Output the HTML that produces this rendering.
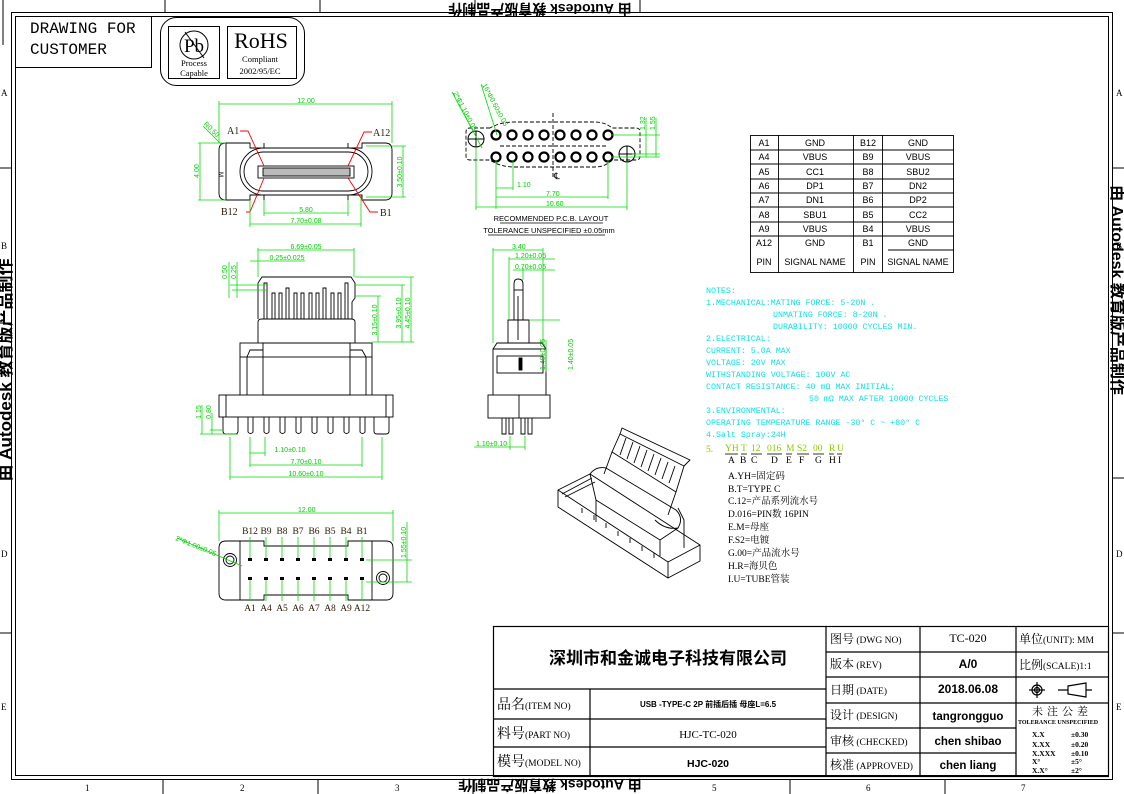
<!DOCTYPE html>
<html><head><meta charset="utf-8"><style>
html,body{margin:0;padding:0;background:#fff;width:1124px;height:794px;overflow:hidden}
svg{display:block}
.s{font-family:"Liberation Serif","Noto Serif CJK SC",serif}
.m{font-family:"Liberation Mono","Noto Sans CJK SC",monospace}
.a{font-family:"Liberation Sans","Noto Sans CJK SC",sans-serif}
</style></head><body>
<svg width="1124" height="794" viewBox="0 0 1124 794" xmlns="http://www.w3.org/2000/svg">
<g fill="none" stroke="#000" stroke-width="1">
<rect x="11.5" y="12.5" width="1101" height="767"/>
<rect x="15.5" y="16.5" width="1093" height="759"/>
<line x1="3" y1="0" x2="3" y2="45"/>
<line x1="165" y1="0" x2="165" y2="12"/><line x1="320" y1="0" x2="320" y2="12"/>
<line x1="475" y1="0" x2="475" y2="12"/><line x1="640" y1="0" x2="640" y2="12"/>
<line x1="0" y1="168" x2="11" y2="168"/><line x1="0" y1="323" x2="11" y2="323"/><line x1="0" y1="478" x2="11" y2="478"/><line x1="0" y1="633" x2="11" y2="633"/>
<line x1="1112" y1="168" x2="1124" y2="168"/><line x1="1112" y1="323" x2="1124" y2="323"/><line x1="1112" y1="478" x2="1124" y2="478"/><line x1="1112" y1="633" x2="1124" y2="633"/>
<line x1="163" y1="779" x2="163" y2="794"/><line x1="318" y1="779" x2="318" y2="794"/><line x1="473" y1="779" x2="473" y2="794"/><line x1="790" y1="779" x2="790" y2="794"/><line x1="945" y1="779" x2="945" y2="794"/>
<rect x="15.5" y="16.5" width="136" height="51"/>
<rect x="160.5" y="17.5" width="144" height="68" rx="16"/>
<rect x="168.5" y="26.5" width="51" height="52"/>
<rect x="227.5" y="26.5" width="69" height="52"/>
<circle cx="194" cy="45" r="14"/>
<line x1="185" y1="32" x2="204" y2="58"/>
</g>
<g class="m" fill="#000">
<text x="30" y="33" font-size="16">DRAWING FOR</text>
<text x="30" y="54" font-size="16">CUSTOMER</text>
</g>
<g class="s" fill="#000">
<text x="194" y="52" font-size="19" text-anchor="middle">Pb</text>
<text x="194" y="66" font-size="8.5" text-anchor="middle">Process</text>
<text x="194" y="76" font-size="8.5" text-anchor="middle">Capable</text>
<text x="261" y="48" font-size="22" text-anchor="middle">RoHS</text>
<text x="260" y="62" font-size="8.5" text-anchor="middle">Compliant</text>
<text x="260" y="74" font-size="8.5" text-anchor="middle">2002/95/EC</text>
<text x="1" y="96" font-size="9">A</text><text x="1" y="249" font-size="9">B</text><text x="1" y="557" font-size="9">D</text><text x="1" y="710" font-size="9">E</text>
<text x="1116" y="96" font-size="9">A</text><text x="1116" y="249" font-size="9">B</text><text x="1116" y="557" font-size="9">D</text><text x="1116" y="710" font-size="9">E</text>
<text x="85" y="791" font-size="9">1</text><text x="240" y="791" font-size="9">2</text><text x="395" y="791" font-size="9">3</text><text x="712" y="791" font-size="9">5</text><text x="866" y="791" font-size="9">6</text><text x="1021" y="791" font-size="9">7</text>
</g>
<g class="a" font-weight="bold" fill="#000">
<text transform="translate(550,780) rotate(180)" font-size="14" text-anchor="middle">由 Autodesk 教育版产品制作</text>
<text transform="translate(540,4) rotate(180)" font-size="14" text-anchor="middle">由 Autodesk 教育版产品制作</text>
<text transform="translate(11,370) rotate(-90)" font-size="17" text-anchor="middle">由 Autodesk 教育版产品制作</text>
<text transform="translate(1112,290) rotate(90)" font-size="16" text-anchor="middle">由 Autodesk 教育版产品制作</text>
</g>

<!-- TOP VIEW -->
<g fill="none" stroke="#000" stroke-width="0.9">
<path d="M226,143 L250,143 L250,148 L264,148 L264,143 M348,143 L348,148 L362,148 L362,143 L385,143 Q392,143 392,150 L392,193 Q392,200 385,200 L362,200 L362,195 L348,195 L348,200 M264,200 L264,195 L250,195 L250,200 L226,200 Q219,200 219,193 L219,150 Q219,143 226,143"/>
<rect x="240" y="148" width="132" height="47" rx="23.5"/>
<rect x="244" y="152" width="124" height="39" rx="19.5"/>
<rect x="258" y="166" width="96" height="12"/>
<rect x="263" y="168" width="87" height="8" fill="#bbb"/>
<line x1="226" y1="143" x2="226" y2="200"/>
</g>
<text x="222" y="175" font-size="6" class="a" transform="rotate(90 222 172)">M</text>
<g stroke="#f00" stroke-width="0.9" fill="none">
<path d="M240,131 L248,131 L264,166"/><path d="M372,132 L364,132 L348,166"/>
<path d="M246,212 L250,212 L264,178"/><path d="M378,212 L370,212 L348,178"/>
</g>
<g class="s" font-size="10" fill="#2a1a00">
<text x="227" y="134">A1</text><text x="373" y="136">A12</text>
<text x="221" y="215">B12</text><text x="380" y="216">B1</text>
</g>
<g stroke="#00dd00" stroke-width="0.8" fill="none">
<line x1="219" y1="104" x2="392" y2="104"/><line x1="219" y1="101" x2="219" y2="143"/><line x1="392" y1="101" x2="392" y2="143"/>
<line x1="200" y1="143" x2="200" y2="200"/><line x1="198" y1="143" x2="226" y2="143"/><line x1="198" y1="200" x2="226" y2="200"/>
<line x1="403" y1="146" x2="403" y2="197"/><line x1="366" y1="146" x2="406" y2="146"/><line x1="366" y1="197" x2="406" y2="197"/>
<line x1="264" y1="213" x2="348" y2="213"/><line x1="264" y1="200" x2="264" y2="216"/><line x1="348" y1="200" x2="348" y2="216"/>
<line x1="250" y1="224" x2="361" y2="224"/><line x1="250" y1="200" x2="250" y2="227"/><line x1="361" y1="195" x2="361" y2="227"/>
<line x1="203" y1="126" x2="222" y2="145"/>
</g>
<g class="a" font-size="7" fill="#00cc00" text-anchor="middle">
<text x="306" y="103">12.00</text>
<text x="306" y="212">5.80</text>
<text x="306" y="223">7.70±0.08</text>
<text transform="translate(199,171) rotate(-90)">4.00</text>
<text transform="translate(402,172) rotate(-90)">3.50±0.10</text>
<text transform="translate(210,131) rotate(45)">R0.50</text>
</g>

<!-- PCB LAYOUT -->
<g fill="none" stroke="#000" stroke-width="0.9" stroke-dasharray="4,2">
<path d="M490,128 L470,128 Q466,128 466,132 L466,156 Q466,160 470,160 L490,160 Q500,167 515,167 L595,167 Q605,167 612,160 L636,160 Q640,160 640,156 L640,132 Q640,128 636,128 L612,128 Q605,122 595,122 L515,122 Q500,122 490,128"/>
<line x1="553" y1="113" x2="553" y2="178"/>
<line x1="500" y1="146" x2="606" y2="146"/>
</g>
<g stroke="#000" fill="none">
<circle cx="476" cy="139" r="8"/><line x1="468" y1="139" x2="484" y2="139"/><line x1="476" y1="131" x2="476" y2="147"/>
<circle cx="627" cy="154" r="8"/><line x1="619" y1="154" x2="635" y2="154"/><line x1="627" y1="146" x2="627" y2="162"/>
</g>
<g stroke="#000" stroke-width="2.2" fill="none">
<circle cx="496" cy="135" r="4.5"/><circle cx="512" cy="135" r="4.5"/><circle cx="528" cy="135" r="4.5"/><circle cx="544" cy="135" r="4.5"/><circle cx="560" cy="135" r="4.5"/><circle cx="576" cy="135" r="4.5"/><circle cx="592" cy="135" r="4.5"/><circle cx="608" cy="135" r="4.5"/>
<circle cx="496" cy="157" r="4.5"/><circle cx="512" cy="157" r="4.5"/><circle cx="528" cy="157" r="4.5"/><circle cx="544" cy="157" r="4.5"/><circle cx="560" cy="157" r="4.5"/><circle cx="576" cy="157" r="4.5"/><circle cx="592" cy="157" r="4.5"/><circle cx="608" cy="157" r="4.5"/>
</g>
<text x="554" y="179" font-size="9" class="s">℄</text>
<g stroke="#00dd00" stroke-width="0.8" fill="none">
<line x1="496" y1="188" x2="513" y2="188"/><line x1="496" y1="160" x2="496" y2="209"/><line x1="513" y1="160" x2="513" y2="190"/>
<line x1="496" y1="197" x2="608" y2="197"/><line x1="608" y1="160" x2="608" y2="199"/>
<line x1="476" y1="207" x2="627" y2="207"/><line x1="476" y1="147" x2="476" y2="210"/><line x1="627" y1="162" x2="627" y2="210"/>
<line x1="612" y1="135" x2="660" y2="135"/><line x1="612" y1="157" x2="660" y2="157"/><line x1="632" y1="154" x2="660" y2="154"/>
<line x1="646" y1="118" x2="646" y2="157"/><line x1="656" y1="118" x2="656" y2="157"/>
<line x1="452" y1="92" x2="482" y2="148"/><line x1="481" y1="84" x2="497" y2="135"/>
</g>
<g class="a" font-size="7" fill="#00cc00">
<text x="517" y="187">1.10</text><text x="546" y="196">7.70</text><text x="546" y="206">10.60</text>
<text transform="translate(645,130) rotate(-90)">1.32</text><text transform="translate(655,130) rotate(-90)">1.55</text>
<text transform="translate(453,93) rotate(62)">2*Φ1.10±0.05</text>
<text transform="translate(482,85) rotate(62)">16*Φ0.60±0.05</text>
</g>
<g class="a" font-size="7.5" fill="#000" text-anchor="middle">
<text x="551" y="221">RECOMMENDED   P.C.B.  LAYOUT</text>
<text x="549" y="233">TOLERANCE  UNSPECIFIED  ±0.05mm</text>
</g>
<line x1="500" y1="223" x2="603" y2="223" stroke="#000" stroke-width="0.8"/>
<line x1="488" y1="235" x2="605" y2="235" stroke="#000" stroke-width="0.8"/>

<!-- PIN TABLE -->
<g stroke="#000" stroke-width="0.9" fill="none">
<rect x="750.5" y="135.5" width="203" height="137"/>
<line x1="778.5" y1="135" x2="778.5" y2="273"/><line x1="853.5" y1="135" x2="853.5" y2="273"/><line x1="882.5" y1="135" x2="882.5" y2="273"/>
<line x1="750" y1="150" x2="954" y2="150"/><line x1="750" y1="164" x2="954" y2="164"/><line x1="750" y1="179" x2="954" y2="179"/><line x1="750" y1="193" x2="954" y2="193"/><line x1="750" y1="207" x2="954" y2="207"/><line x1="750" y1="222" x2="954" y2="222"/><line x1="750" y1="236" x2="954" y2="236"/>
<line x1="888" y1="250" x2="954" y2="250"/>
</g>
<g class="a" font-size="9" fill="#000" text-anchor="middle">
<text x="764" y="146">A1</text><text x="815" y="146">GND</text><text x="868" y="146">B12</text><text x="918" y="146">GND</text>
<text x="764" y="160">A4</text><text x="815" y="160">VBUS</text><text x="868" y="160">B9</text><text x="918" y="160">VBUS</text>
<text x="764" y="175">A5</text><text x="815" y="175">CC1</text><text x="868" y="175">B8</text><text x="918" y="175">SBU2</text>
<text x="764" y="189">A6</text><text x="815" y="189">DP1</text><text x="868" y="189">B7</text><text x="918" y="189">DN2</text>
<text x="764" y="203">A7</text><text x="815" y="203">DN1</text><text x="868" y="203">B6</text><text x="918" y="203">DP2</text>
<text x="764" y="218">A8</text><text x="815" y="218">SBU1</text><text x="868" y="218">B5</text><text x="918" y="218">CC2</text>
<text x="764" y="232">A9</text><text x="815" y="232">VBUS</text><text x="868" y="232">B4</text><text x="918" y="232">VBUS</text>
<text x="764" y="246">A12</text><text x="815" y="246">GND</text><text x="868" y="246">B1</text><text x="918" y="246">GND</text>
<text x="764" y="265">PIN</text><text x="815" y="265">SIGNAL NAME</text><text x="868" y="265">PIN</text><text x="918" y="265">SIGNAL NAME</text>
</g>

<!-- FRONT VIEW -->
<g fill="none" stroke="#000" stroke-width="0.9">
<path d="M258,319 L258,283 L262,277 L351,277 L355,283 L355,298 L352,302 L352,319"/>
<path d="M258,343 L258,322 Q258,319 262,319 L351,319 Q355,319 355,322 L355,343"/>
<rect x="240" y="343" width="132" height="14"/>
<path d="M247,357 L247,395 M366,357 L366,395 M240,357 L240,395 M372,357 L372,395"/>
<rect x="263" y="343" width="87" height="52"/>
<path d="M263,350 L250,350 L247,357 M350,350 L362,350 L366,357"/>
<rect x="219" y="395" width="174" height="22"/>
<line x1="226" y1="395" x2="226" y2="417"/><line x1="386" y1="395" x2="386" y2="417"/>
<path d="M223,417 L223,431 Q223,434 226,434 L235,434 Q238,434 238,431 L238,417"/>
<path d="M374,417 L374,431 Q374,434 377,434 L386,434 Q389,434 389,431 L389,417"/>
<path d="M248,417 v15 q2.5,3 5,0 v-15 M264,417 v15 q2.5,3 5,0 v-15 M280,417 v15 q2.5,3 5,0 v-15 M296,417 v15 q2.5,3 5,0 v-15 M312,417 v15 q2.5,3 5,0 v-15 M328,417 v15 q2.5,3 5,0 v-15 M344,417 v15 q2.5,3 5,0 v-15 M360,417 v15 q2.5,3 5,0 v-15"/>
<path d="M264,319 V283 h3 V319 M272,319 V293 h3 V319 M279,319 V293 h3 V319 M286,319 V288 h3 V319 M294,319 V293 h3 V319 M301,319 V293 h3 V319 M309,319 V293 h3 V319 M316,319 V293 h3 V319 M323,319 V288 h3 V319 M331,319 V293 h3 V319 M338,319 V293 h3 V319 M345,319 V283 h3 V319"/>
</g>
<g stroke="#00dd00" stroke-width="0.8" fill="none">
<line x1="258" y1="250" x2="354" y2="250"/><line x1="258" y1="248" x2="258" y2="277"/><line x1="354" y1="248" x2="354" y2="277"/>
<line x1="250" y1="261" x2="305" y2="261"/>
<line x1="229" y1="262" x2="229" y2="298"/><line x1="237" y1="262" x2="237" y2="298"/>
<line x1="230" y1="285" x2="268" y2="285"/><line x1="232" y1="290" x2="268" y2="290"/>
<line x1="378" y1="296" x2="378" y2="342"/><line x1="402" y1="285" x2="402" y2="342"/><line x1="411" y1="277" x2="411" y2="342"/>
<line x1="355" y1="277" x2="414" y2="277"/><line x1="355" y1="285" x2="405" y2="285"/><line x1="355" y1="296" x2="381" y2="296"/><line x1="372" y1="342" x2="414" y2="342"/>
<line x1="202" y1="405" x2="202" y2="434"/><line x1="212" y1="413" x2="212" y2="434"/><line x1="200" y1="434" x2="238" y2="434"/><line x1="210" y1="430" x2="223" y2="430"/>
<line x1="250" y1="453" x2="265" y2="453"/><line x1="250" y1="437" x2="250" y2="467"/><line x1="265" y1="437" x2="265" y2="456"/>
<line x1="250" y1="465" x2="362" y2="465"/><line x1="362" y1="437" x2="362" y2="467"/>
<line x1="230" y1="477" x2="382" y2="477"/><line x1="230" y1="437" x2="230" y2="480"/><line x1="382" y1="437" x2="382" y2="480"/>
</g>
<g class="a" font-size="7" fill="#00cc00" text-anchor="middle">
<text x="306" y="249">6.69±0.05</text><text x="287" y="260">0.25±0.025</text>
<text transform="translate(227,272) rotate(-90)">0.50</text><text transform="translate(236,272) rotate(-90)">0.25</text>
<text transform="translate(377,320) rotate(-90)">3.15±0.10</text><text transform="translate(401,313) rotate(-90)">3.95±0.10</text><text transform="translate(410,313) rotate(-90)">4.45±0.10</text>
<text transform="translate(201,412) rotate(-90)">1.15</text><text transform="translate(211,412) rotate(-90)">0.80</text>
<text x="290" y="452">1.10±0.10</text><text x="306" y="464">7.70±0.10</text><text x="306" y="476">10.60±0.10</text>
</g>

<!-- SIDE VIEW -->
<g fill="none" stroke="#000" stroke-width="0.9">
<path d="M514,320 V284 Q514,279 518,279 Q523,279 523,284 V320"/>
<line x1="514" y1="290" x2="523" y2="290"/><line x1="518" y1="296" x2="518" y2="340"/>
<path d="M508,343 V320 H529 V343"/>
<path d="M493,395 V349 L497,343 H542 L546,349 V395"/><line x1="493" y1="349" x2="546" y2="349"/>
<rect x="497" y="356" width="46" height="17"/>
<rect x="519" y="358" width="3" height="12" fill="#000"/>
<rect x="488" y="395" width="62" height="23"/><line x1="519" y1="395" x2="519" y2="418"/>
<path d="M502,418 v16 h4 v-16 M509,418 v16 h4 v-16 M521,418 v16 h4 v-16 M528,418 v16 h4 v-16"/>
</g>
<g stroke="#00dd00" stroke-width="0.8" fill="none">
<line x1="493" y1="250" x2="543" y2="250"/><line x1="493" y1="248" x2="493" y2="343"/><line x1="543" y1="248" x2="543" y2="343"/>
<line x1="509" y1="259" x2="555" y2="259"/><line x1="509" y1="257" x2="509" y2="320"/>
<line x1="513" y1="270" x2="555" y2="270"/><line x1="523" y1="268" x2="523" y2="280"/>
<line x1="546" y1="340" x2="546" y2="372"/><line x1="530" y1="320" x2="560" y2="320"/>
<line x1="474" y1="447" x2="525" y2="447"/><line x1="510" y1="436" x2="510" y2="450"/><line x1="525" y1="436" x2="525" y2="450"/>
</g>
<g class="a" font-size="7" fill="#00cc00">
<text x="512" y="249">3.40</text><text x="515" y="258">1.20±0.05</text><text x="515" y="269">0.70±0.05</text>
<text transform="translate(545,370) rotate(-90)">1.40±0.05</text><text transform="translate(573,370) rotate(-90)">1.40±0.05</text>
<text x="476" y="446">1.10±0.10</text>
</g>

<!-- BOTTOM VIEW -->
<g fill="none" stroke="#000" stroke-width="0.9">
<path d="M226,541 H264 V546 H348 V541 H386 Q393,541 393,548 V593 Q393,600 386,600 H348 V595 H264 V600 H226 Q219,600 219,593 V548 Q219,541 226,541"/>
<line x1="240" y1="541" x2="240" y2="600"/><line x1="372" y1="541" x2="372" y2="600"/>
<circle cx="230" cy="560" r="6.5"/><circle cx="230" cy="560" r="4"/>
<circle cx="383" cy="578" r="6.5"/><circle cx="383" cy="578" r="4"/>
</g>
<g stroke="#00dd00" stroke-width="0.8" fill="none">
<line x1="219" y1="513" x2="393" y2="513"/><line x1="219" y1="510" x2="219" y2="541"/><line x1="393" y1="510" x2="393" y2="541"/>
<path d="M250,537 V558 M266,537 V558 M282,537 V558 M298,537 V558 M314,537 V558 M330,537 V558 M346,537 V558 M362,537 V558"/>
<path d="M250,580 V601 M266,580 V601 M282,580 V601 M298,580 V601 M314,580 V601 M330,580 V601 M346,580 V601 M362,580 V601"/>
<line x1="407" y1="522" x2="407" y2="582"/><line x1="366" y1="560" x2="412" y2="560"/><line x1="366" y1="582" x2="412" y2="582"/>
<line x1="177" y1="538" x2="242" y2="566"/>
</g>
<g fill="#000">
<rect x="248" y="558" width="4" height="3"/><rect x="264" y="558" width="4" height="3"/><rect x="280" y="558" width="4" height="3"/><rect x="296" y="558" width="4" height="3"/><rect x="312" y="558" width="4" height="3"/><rect x="328" y="558" width="4" height="3"/><rect x="344" y="558" width="4" height="3"/><rect x="360" y="558" width="4" height="3"/>
<rect x="248" y="577" width="4" height="3"/><rect x="264" y="577" width="4" height="3"/><rect x="280" y="577" width="4" height="3"/><rect x="296" y="577" width="4" height="3"/><rect x="312" y="577" width="4" height="3"/><rect x="328" y="577" width="4" height="3"/><rect x="344" y="577" width="4" height="3"/><rect x="360" y="577" width="4" height="3"/>
</g>
<g class="s" font-size="9.5" fill="#2a1a00" text-anchor="middle">
<text x="250" y="534">B12</text><text x="266" y="534">B9</text><text x="282" y="534">B8</text><text x="298" y="534">B7</text><text x="314" y="534">B6</text><text x="330" y="534">B5</text><text x="346" y="534">B4</text><text x="362" y="534">B1</text>
<text x="250" y="611">A1</text><text x="266" y="611">A4</text><text x="282" y="611">A5</text><text x="298" y="611">A6</text><text x="314" y="611">A7</text><text x="330" y="611">A8</text><text x="346" y="611">A9</text><text x="362" y="611">A12</text>
</g>
<g class="a" font-size="7" fill="#00cc00">
<text x="298" y="512">12.00</text>
<text transform="translate(406,558) rotate(-90)">1.55±0.10</text>
<text transform="translate(175,540) rotate(22)">2*Φ1.00±0.05</text>
</g>

<!-- 3D VIEW -->
<g fill="none" stroke="#000" stroke-width="0.9" stroke-linejoin="round">
<path d="M558,490 L590,474 L700,545 L668,562 Z"/>
<path d="M558,490 L558,507 L668,578 L668,562"/>
<path d="M668,578 L700,561 L700,545"/>
<path d="M562,494 L592,478 M565,497 L595,482"/>
<path d="M590,474 Q596,466 606,468 L676,510 Q684,518 678,528 L660,540 L596,500 Z"/>
<path d="M596,500 L596,522 M660,540 L660,556"/>
<path d="M604,474 L612,452 L676,492 L668,515"/>
<path d="M612,452 L620,434 L684,466 L676,492"/>
<path d="M620,434 L622,428 L690,460 L684,466"/>
<path d="M620,455 L626,438 M627,459 L633,442 M634,463 L640,446 M641,467 L647,450 M648,471 L654,454 M655,475 L661,458 M662,479 L668,462 M669,483 L675,466"/>
<path d="M655,520 Q665,530 678,528 M678,508 L684,520 L684,548"/>
<path d="M582,508 v5 M594,515 v5 M606,523 v5 M618,531 v5 M630,538 v5 M642,546 v5 M654,553 v5"/>
</g>

<!-- NOTES -->
<g class="m" font-size="8.3" fill="#10e0e0">
<text x="706" y="293">NOTES:</text>
<text x="706" y="305">1.MECHANICAL:MATING FORCE: 5-20N .</text>
<text x="773" y="317">UNMATING FORCE: 8-20N .</text>
<text x="773" y="329">DURABILITY: 10000 CYCLES MIN.</text>
<text x="706" y="341">2.ELECTRICAL:</text>
<text x="706" y="353">CURRENT: 5.0A MAX</text>
<text x="706" y="365">VOLTAGE: 20V MAX</text>
<text x="706" y="377">WITHSTANDING VOLTAGE: 100V AC</text>
<text x="706" y="389">CONTACT RESISTANCE: 40 mΩ MAX INITIAL;</text>
<text x="809" y="401">50 mΩ MAX AFTER 10000 CYCLES</text>
<text x="706" y="413">3.ENVIRONMENTAL:</text>
<text x="706" y="425">OPERATING TEMPERATURE RANGE -30° C ~ +80° C</text>
<text x="706" y="437">4.Salt Spray:24H</text>
</g>
<g class="s" font-size="9.5" fill="#88cc00">
<text x="706" y="452">5.</text>
<text x="725" y="451">YH</text><text x="741" y="451">T</text><text x="751" y="451">12</text><text x="767" y="451">016</text><text x="786" y="451">M</text><text x="797" y="451">S2</text><text x="813" y="451">00</text><text x="829" y="451">R</text><text x="837" y="451">U</text>
</g>
<g stroke="#000" stroke-width="0.8">
<line x1="725" y1="454" x2="738" y2="454"/><line x1="741" y1="454" x2="747" y2="454"/><line x1="751" y1="454" x2="762" y2="454"/><line x1="767" y1="454" x2="782" y2="454"/><line x1="786" y1="454" x2="792" y2="454"/><line x1="797" y1="454" x2="809" y2="454"/><line x1="813" y1="454" x2="824" y2="454"/><line x1="829" y1="454" x2="834" y2="454"/><line x1="837" y1="454" x2="842" y2="454"/>
</g>
<g class="s" font-size="9.5" fill="#000">
<text x="728" y="463">A</text><text x="740" y="463">B</text><text x="751" y="463">C</text><text x="771" y="463">D</text><text x="786" y="463">E</text><text x="799" y="463">F</text><text x="815" y="463">G</text><text x="829" y="463">H</text><text x="838" y="463">I</text>
<text x="728" y="479">A.YH=固定码</text>
<text x="728" y="492">B.T=TYPE C</text>
<text x="728" y="504">C.12=产品系列流水号</text>
<text x="728" y="517">D.016=PIN数 16PIN</text>
<text x="728" y="530">E.M=母座</text>
<text x="728" y="543">F.S2=电镀</text>
<text x="728" y="556">G.00=产品流水号</text>
<text x="728" y="569">H.R=海贝色</text>
<text x="728" y="582">I.U=TUBE管装</text>
</g>

<!-- TITLE BLOCK -->
<g fill="none" stroke="#000" stroke-width="1.2">
<rect x="493.5" y="626.5" width="615" height="150"/>
<line x1="826" y1="626" x2="826" y2="777"/><line x1="920" y1="626" x2="920" y2="777"/><line x1="1016" y1="626" x2="1016" y2="777"/>
<line x1="826" y1="652" x2="1109" y2="652"/><line x1="826" y1="677" x2="1109" y2="677"/><line x1="826" y1="703" x2="1109" y2="703"/>
<line x1="826" y1="728" x2="1016" y2="728"/><line x1="826" y1="753" x2="1016" y2="753"/>
<line x1="493" y1="689" x2="826" y2="689"/><line x1="493" y1="719" x2="826" y2="719"/><line x1="493" y1="747" x2="826" y2="747"/>
<line x1="590" y1="689" x2="590" y2="777"/>
<circle cx="1037" cy="690" r="5"/><circle cx="1037" cy="690" r="2.5"/><line x1="1029" y1="690" x2="1045" y2="690"/><line x1="1037" y1="682" x2="1037" y2="698"/>
<path d="M1058,690 H1068 M1068,686 L1086,683 L1086,697 L1068,694 Z M1086,690 H1092"/>
</g>
<g fill="#000">
<text x="668" y="664" text-anchor="middle" class="a" font-size="17" font-weight="bold">深圳市和金诚电子科技有限公司</text>
<g class="s" font-size="9.5">
<text x="497" y="709"><tspan font-size="14">品名</tspan>(ITEM NO)</text>
<text x="497" y="738"><tspan font-size="14">料号</tspan>(PART NO)</text>
<text x="497" y="766"><tspan font-size="14">模号</tspan>(MODEL NO)</text>
<text x="708" y="738" text-anchor="middle" font-size="11">HJC-TC-020</text>
<text x="830" y="643"><tspan font-size="12">图号</tspan> (DWG NO)</text>
<text x="830" y="668"><tspan font-size="12">版本</tspan> (REV)</text>
<text x="830" y="694"><tspan font-size="12">日期</tspan> (DATE)</text>
<text x="830" y="719"><tspan font-size="12">设计</tspan> (DESIGN)</text>
<text x="830" y="745"><tspan font-size="12">审核</tspan> (CHECKED)</text>
<text x="830" y="769"><tspan font-size="12">核准</tspan> (APPROVED)</text>
<text x="968" y="642" text-anchor="middle" font-size="12">TC-020</text>
<text x="1019" y="643"><tspan font-size="12">单位</tspan>(UNIT): MM</text>
<text x="1019" y="669"><tspan font-size="12">比例</tspan>(SCALE)1:1</text>
<text x="1062" y="715" text-anchor="middle" font-size="11" letter-spacing="4">未注公差</text>
</g>
<g class="a" font-weight="bold">
<text x="708" y="707" text-anchor="middle" font-size="8">USB -TYPE-C 2P 前插后插 母座L=6.5</text>
<text x="708" y="767" text-anchor="middle" font-size="10.5">HJC-020</text>
<text x="968" y="668" text-anchor="middle" font-size="12">A/0</text>
<text x="968" y="693" text-anchor="middle" font-size="12">2018.06.08</text>
<text x="968" y="720" text-anchor="middle" font-size="11.5">tangrongguo</text>
<text x="968" y="745" text-anchor="middle" font-size="11.5">chen shibao</text>
<text x="968" y="769" text-anchor="middle" font-size="11.5">chen liang</text>
</g>
<g class="s" font-size="7.5" font-weight="bold">
<text x="1018" y="724" font-size="6">TOLERANCE UNSPECIFIED</text>
<text x="1032" y="737">X.X</text><text x="1071" y="737">±0.30</text>
<text x="1032" y="747">X.XX</text><text x="1071" y="747">±0.20</text>
<text x="1032" y="756">X.XXX</text><text x="1071" y="756">±0.10</text>
<text x="1032" y="764">X°</text><text x="1071" y="764">±5°</text>
<text x="1032" y="773">X.X°</text><text x="1071" y="773">±2°</text>
</g>
</g>
</svg>
</body></html>
